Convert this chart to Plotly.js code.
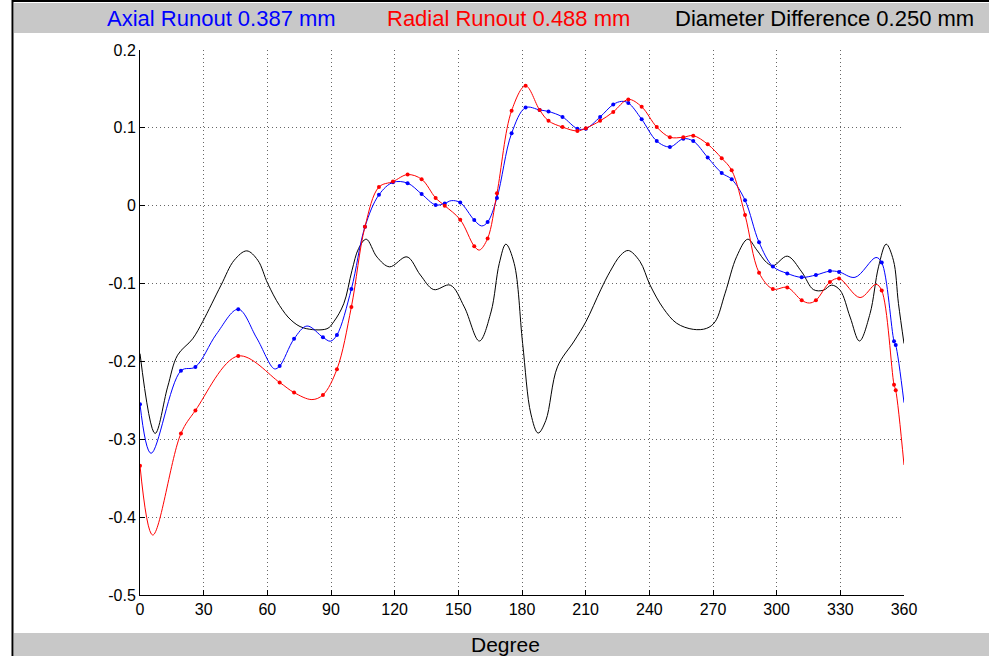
<!DOCTYPE html>
<html>
<head>
<meta charset="utf-8">
<script src="https://cdn.plot.ly/plotly-3.0.1.min.js"></script>
<style>html,body{margin:0;padding:0;background:#fff;}#chart{width:989px;height:656px;}</style>
</head>
<body>
<div id="chart"></div>
<script>
// ---- Data ----
var xTickVals = [0, 30, 60, 90, 120, 150, 180, 210, 240, 270, 300, 330, 360];
var yTickVals = [0.2, 0.1, 0, -0.1, -0.2, -0.3, -0.4, -0.5];
var yTickText = ["0.2", "0.1", "0", "-0.1", "-0.2", "-0.3", "-0.4", "-0.5"];

var titleAxial = "Axial Runout 0.387 mm";
var titleRadial = "Radial Runout 0.488 mm";
var titleDiam = "Diameter Difference 0.250 mm";
var xLabel = "Degree";

// Axial runout: measured points (with markers)
var axialDeg = [0, 19.3, 26.1, 46.3, 65.8, 72.6, 86.2, 92.8, 99.6, 106.0, 112.6, 119.2, 126.1, 132.7, 139.3, 143.6, 150.9, 157.5, 163.8, 168.2, 175.1, 181.7, 188.3, 192.5, 199.1, 206.1, 210.1, 216.8, 223.0, 230.1, 236.4, 243.5, 249.7, 256.0, 260.7, 267.5, 274.1, 278.8, 285.1, 291.7, 298.2, 305.0, 311.8, 318.5, 325.1, 329.4, 349.5, 355.3, 356.1];
var axialVal = [-0.255, -0.212, -0.207, -0.133, -0.206, -0.171, -0.169, -0.166, -0.107, -0.027, 0.014, 0.030, 0.029, 0.015, 0.001, 0.003, 0.004, -0.0185, -0.021, 0.010, 0.093, 0.126, 0.123, 0.121, 0.114, 0.099, 0.099, 0.114, 0.130, 0.132, 0.111, 0.083, 0.0755, 0.086, 0.083, 0.062, 0.042, 0.034, 0.007, -0.047, -0.078, -0.087, -0.092, -0.089, -0.084, -0.085, -0.073, -0.174, -0.179];
// Axial runout: extra curve points between measured points
var axialCurveDeg = [5.2, 36.0, 55.0, 63.3, 78.7, 89.7, 146.7, 161.0, 226.9, 336.9, 346.8, 360];
var axialCurveVal = [-0.318, -0.165, -0.170, -0.2095, -0.1545, -0.174, 0.0065, -0.026, 0.134, -0.092, -0.0665, -0.253];

// Radial runout: measured points (with markers)
var radialDeg = [0, 19.3, 26.1, 46.3, 65.8, 72.6, 86.2, 92.8, 99.6, 106.0, 112.6, 119.2, 126.1, 132.7, 139.3, 143.6, 150.9, 157.5, 163.8, 168.2, 175.1, 181.7, 188.3, 192.5, 199.1, 206.1, 210.1, 216.8, 223.0, 230.1, 236.4, 243.5, 249.7, 256.0, 260.7, 267.5, 274.1, 278.8, 285.1, 291.7, 298.2, 305.0, 311.8, 318.5, 325.1, 329.4, 349.5, 355.3, 356.1];
var radialVal = [-0.334, -0.2925, -0.263, -0.193, -0.227, -0.240, -0.243, -0.210, -0.130, -0.027, 0.024, 0.031, 0.040, 0.034, 0.010, 0.000, -0.018, -0.052, -0.042, 0.016, 0.122, 0.154, 0.123, 0.109, 0.101, 0.096, 0.0996, 0.109, 0.1205, 0.1365, 0.127, 0.101, 0.088, 0.088, 0.090, 0.079, 0.061, 0.0455, -0.012, -0.086, -0.107, -0.105, -0.1215, -0.1215, -0.098, -0.0936, -0.109, -0.230, -0.237];
// Radial runout: extra curve points
var radialCurveDeg = [6.0, 81.0, 159.9, 315.4, 339.3, 346.8, 360];
var radialCurveVal = [-0.423, -0.249, -0.057, -0.125, -0.118, -0.101, -0.333];

// Diameter difference (line only)
var diamDeg = [0, 7.1, 13, 17.7, 24.8, 29.5, 38.2, 44.4, 50.3, 55.5, 60.2, 65.7, 71.2, 77.1, 88.1, 91.3, 96, 99.9, 103, 106.6, 111.7, 117.6, 125.8, 132.1, 138.4, 146.2, 152.8, 159.9, 165.4, 169.3, 172.4, 176.3, 180.3, 184.2, 187.6, 191.2, 196.7, 204.6, 210.1, 217.1, 221.5, 226.5, 230.1, 235.6, 240.3, 246.6, 252.9, 260.7, 267, 271, 275.7, 281.2, 286.4, 290.6, 295.3, 298.4, 305, 311.8, 317.3, 322, 325.9, 329.9, 334.6, 339, 344, 348, 351.6, 355, 357.4, 360];
var diamVal = [-0.190, -0.2925, -0.233, -0.192, -0.171, -0.149, -0.102, -0.070, -0.058, -0.070, -0.100, -0.128, -0.147, -0.157, -0.158, -0.149, -0.126, -0.083, -0.055, -0.043, -0.066, -0.0785, -0.0657, -0.089, -0.1077, -0.102, -0.130, -0.1738, -0.1365, -0.074, -0.0494, -0.074, -0.177, -0.2676, -0.292, -0.276, -0.207, -0.1738, -0.149, -0.108, -0.0845, -0.0635, -0.0575, -0.0717, -0.1017, -0.1318, -0.151, -0.1588, -0.1575, -0.149, -0.1124, -0.065, -0.043, -0.0567, -0.073, -0.077, -0.0648, -0.085, -0.1077, -0.1086, -0.102, -0.1086, -0.143, -0.1738, -0.1386, -0.0785, -0.0494, -0.070, -0.1258, -0.177];

// ---- Build ----
function merge(ax, ay, bx, by) {
  var pts = [];
  for (var i = 0; i < ax.length; i++) pts.push([ax[i], ay[i]]);
  for (var j = 0; j < bx.length; j++) pts.push([bx[j], by[j]]);
  pts.sort(function (p, q) { return p[0] - q[0]; });
  return { x: pts.map(function (p) { return p[0]; }), y: pts.map(function (p) { return p[1]; }) };
}
var axialLine = merge(axialDeg, axialVal, axialCurveDeg, axialCurveVal);
var radialLine = merge(radialDeg, radialVal, radialCurveDeg, radialCurveVal);

var BLUE = "#0000ff", RED = "#ff0000", BLACK = "#000000";
var traces = [
  { x: diamDeg, y: diamVal, mode: "lines", line: { color: BLACK, width: 1, shape: "spline", smoothing: 1 }, hoverinfo: "skip" },
  { x: axialLine.x, y: axialLine.y, mode: "lines", line: { color: BLUE, width: 1, shape: "spline", smoothing: 1 }, hoverinfo: "skip" },
  { x: radialLine.x, y: radialLine.y, mode: "lines", line: { color: RED, width: 1, shape: "spline", smoothing: 1 }, hoverinfo: "skip" },
  { x: axialDeg, y: axialVal, mode: "markers", marker: { color: BLUE, size: 4, symbol: "circle" }, hoverinfo: "skip" },
  { x: radialDeg, y: radialVal, mode: "markers", marker: { color: RED, size: 4, symbol: "circle" }, hoverinfo: "skip" }
];

// pixel helpers for paper coordinates (plot area: x 140..904, y 50..595)
var L = 140, R = 904, T = 50, B = 595;
function px(x) { return (x - L) / (R - L); }
function py(y) { return (B - y) / (B - T); }

var FONT = "Liberation Sans, Arial, Helvetica, sans-serif";
var GRID = "#666666";
var layout = {
  width: 989, height: 656,
  margin: { l: L, r: 989 - R, t: T, b: 656 - B, pad: 0 },
  paper_bgcolor: "#ffffff", plot_bgcolor: "#ffffff",
  showlegend: false,
  font: { family: FONT, size: 16, color: "#000" },
  xaxis: {
    range: [0, 360], tickmode: "array", tickvals: xTickVals, ticktext: xTickVals.map(String),
    showgrid: true, gridcolor: GRID, griddash: "1px,3px", gridwidth: 1,
    zeroline: false, showline: true, linecolor: "#000", linewidth: 1,
    ticks: "inside", ticklen: 5, tickcolor: "#000",
    tickfont: { family: FONT, size: 16, color: "#000" }, fixedrange: true
  },
  yaxis: {
    range: [-0.5, 0.2], tickmode: "array", tickvals: yTickVals, ticktext: yTickText,
    showgrid: true, gridcolor: GRID, griddash: "1px,3px", gridwidth: 1,
    zeroline: false, showline: true, linecolor: "#000", linewidth: 1,
    ticks: "inside", ticklen: 5, tickcolor: "#000",
    tickfont: { family: FONT, size: 16, color: "#000" }, fixedrange: true
  },
  shapes: [
    { type: "rect", xref: "paper", yref: "paper", x0: px(14), x1: px(995), y0: py(33), y1: py(3), fillcolor: "#c8c8c8", line: { width: 0 }, layer: "below" },
    { type: "rect", xref: "paper", yref: "paper", x0: px(14), x1: px(995), y0: py(660), y1: py(633), fillcolor: "#c8c8c8", line: { width: 0 }, layer: "below" },
    { type: "line", xref: "paper", yref: "paper", x0: px(12), x1: px(995), y0: py(1), y1: py(1), line: { color: "#000", width: 2 } },
    { type: "line", xref: "paper", yref: "paper", x0: px(12.5), x1: px(12.5), y0: py(0), y1: py(660), line: { color: "#000", width: 2 } }
  ],
  annotations: [
    { text: titleAxial, xref: "paper", yref: "paper", x: px(105), y: py(18), xanchor: "left", yanchor: "middle", showarrow: false, font: { family: FONT, size: 22, color: BLUE } },
    { text: titleRadial, xref: "paper", yref: "paper", x: px(385), y: py(18), xanchor: "left", yanchor: "middle", showarrow: false, font: { family: FONT, size: 22, color: RED } },
    { text: titleDiam, xref: "paper", yref: "paper", x: px(673), y: py(18), xanchor: "left", yanchor: "middle", showarrow: false, font: { family: FONT, size: 22, color: BLACK } },
    { text: xLabel, xref: "paper", yref: "paper", x: px(505), y: py(644), xanchor: "center", yanchor: "middle", showarrow: false, font: { family: FONT, size: 21, color: "#000" } }
  ]
};

Plotly.newPlot("chart", traces, layout, { staticPlot: true, displayModeBar: false });
</script>
</body>
</html>
